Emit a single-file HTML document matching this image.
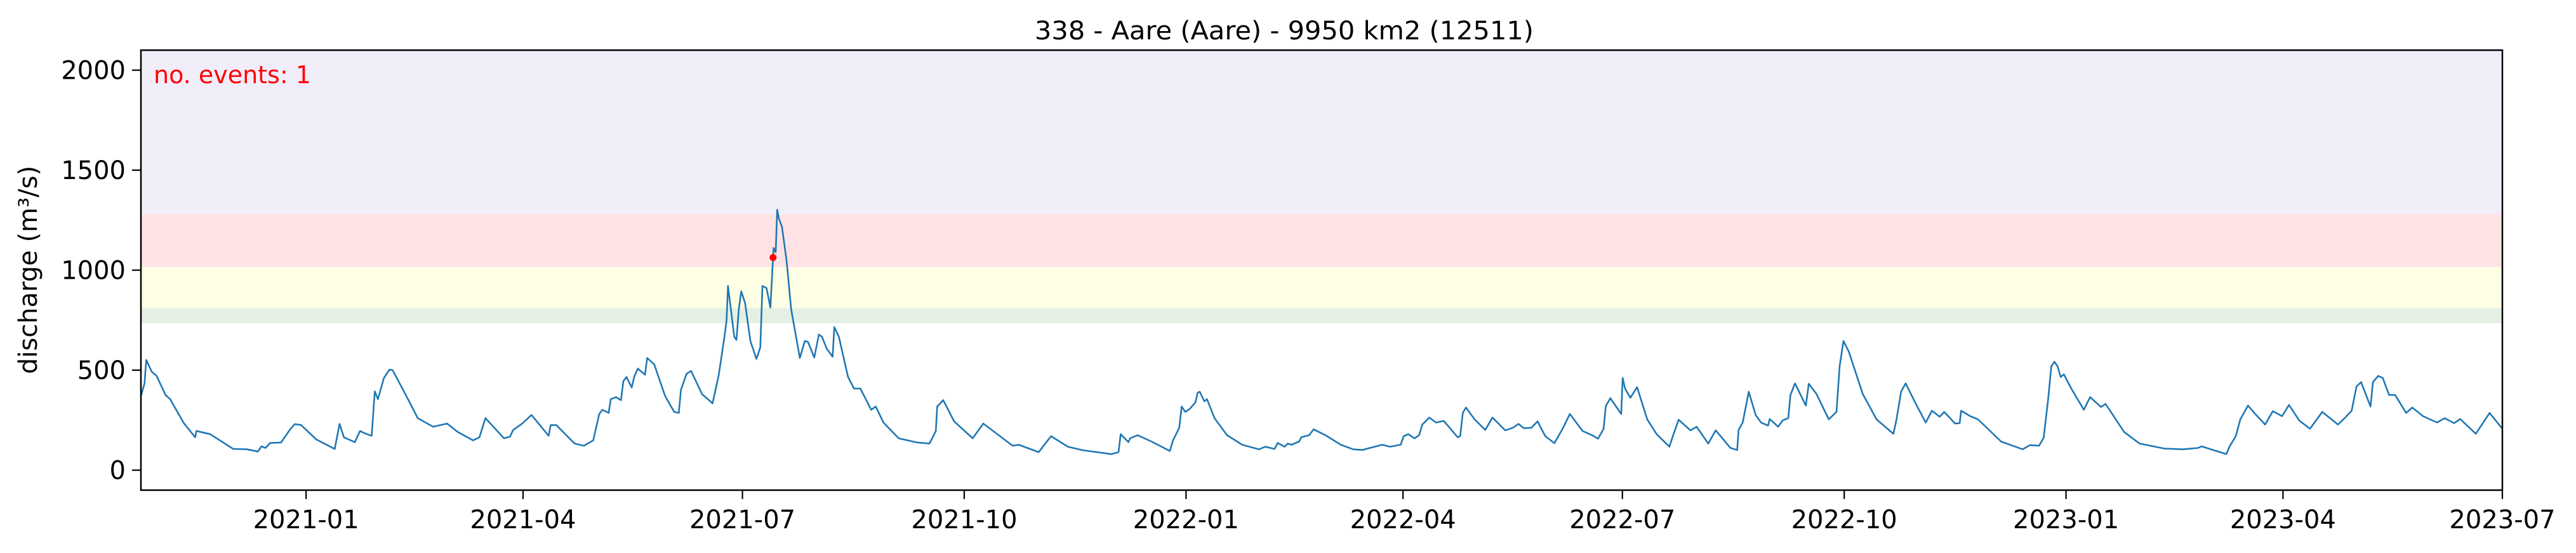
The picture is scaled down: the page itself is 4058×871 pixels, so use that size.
<!DOCTYPE html>
<html><head><meta charset="utf-8"><style>
html,body{margin:0;padding:0;background:#fff;}
svg{display:block;font-family:"DejaVu Sans","Liberation Sans",sans-serif;}
</style></head><body>
<svg id="chart" width="4058" height="871" viewBox="0 0 4058 871" xmlns="http://www.w3.org/2000/svg">
<defs><clipPath id="plotclip"><rect x="222" y="79" width="3720" height="693"/></clipPath></defs>
<g id="bands" clip-path="url(#plotclip)"></g>
<g id="series" clip-path="url(#plotclip)"></g>
<rect x="222" y="79" width="3720" height="693" fill="none" stroke="#000" stroke-width="2.5"/>
<g id="yaxis"></g><g id="xaxis"></g>
<text x="2023" y="62" font-size="40" text-anchor="middle" textLength="786" lengthAdjust="spacingAndGlyphs">338 - Aare (Aare) - 9950 km2 (12511)</text>
<text transform="translate(58,425) rotate(-90)" font-size="40" text-anchor="middle">discharge (m³/s)</text>
<text x="242" y="131" font-size="38" fill="#ff0000">no. events: 1</text>
</svg>
<script>
// days since 2021-01-01
const days = [-68.5,-67,-66.3,-64,-62,-58.3,-56.4,-50.6,-46,-45.5,-39.8,-30.2,-24.5,-20,-18.5,-16.8,-14.9,-10.4,-6.6,-4.7,-2.1,4.2,11.9,13.9,15.7,20.2,22.4,24.6,27.2,28.5,29.8,32.3,34.6,35.9,42.5,46.3,52.7,58.5,62.9,69.3,71.9,74.4,82.1,84.6,85.9,89.7,93.5,100.6,101.5,103.8,111.4,115.2,119.1,121.6,122.9,125.5,126.4,128.6,130.6,131.6,132.9,135.1,136.1,137.6,140.6,141.5,144.4,148.9,152.7,154.6,155.5,157.8,159.7,164.2,168.6,171.2,173.4,174.4,175,177.6,178.5,179.5,180.5,182.1,184.3,186.8,188.4,189.3,191,192.6,193.7,193.9,194.8,195.4,196.1,197.4,199.3,201.2,204.8,206.9,208.2,210.8,212.7,214,215.9,218.4,219.1,221,224.8,227.3,229.9,234.4,236.3,239.5,245.8,253.5,258.6,261.2,261.8,264.3,268.8,276.5,280.9,293.1,295.6,303.9,309,316,322,334.1,337,337.9,341.1,341.8,344.9,350.7,358.3,359.6,362.2,363.2,364.7,366.6,368.9,369.8,370.7,372.6,373.7,376.8,382,388.3,395.3,397.9,401.7,403,405.9,407.2,408.7,411.9,412.8,416.1,417.9,422.8,429.2,434.3,438.1,443.2,446.4,449.6,454,455.3,457.2,459.8,461.7,463,465.9,468.7,471.9,477.7,478.7,479.8,481.1,484.7,489.1,492.1,497.4,500.6,502.9,505.1,508.3,510.8,514,517.8,521.2,524.2,529.5,533.4,535.9,538.2,539.1,541,545.5,546.1,547.1,549.3,552.1,556.3,560.2,565.5,566.5,569.3,574.2,576.8,581.6,584.7,590.8,593.6,594.2,595.9,598.4,601.3,603.5,606.4,607.1,610.6,612.5,614.8,615.7,617.6,622.1,623.3,626.5,631.6,634.8,636.1,637.7,639.9,645.7,651.4,658.4,659.7,661.6,663.5,667.4,671.8,674.4,677.6,679.5,684,685.9,686.5,690.3,693.5,703.1,712,715,718.8,720.7,722.6,723.9,725.2,726.5,727.8,729.1,732.2,737.4,740,744.5,746.4,754.1,760.5,770.8,778.5,784.9,786.2,796.5,797.8,800.4,802.3,805.5,808.1,812.6,815.8,819.6,822.5,826.7,831.2,836.3,842.8,846,848.5,850.5,852.4,856.3,857.3,859.5,861.4,864,866.5,871.1,873.6,878.1,883.9,887.1,891,893.5,900,905.7,911];
const discharge = [371,434,551,492,471,376,355,233,164,196,180,106,104,93,119,111,136,138,204,230,226,154,106,231,164,140,196,183,172,394,355,461,503,500,350,260,217,233,191,149,164,260,159,168,201,233,276,172,225,225,133,122,149,281,302,286,355,365,350,445,466,413,466,508,477,561,529,371,291,286,402,482,496,381,334,477,656,746,921,667,651,805,894,836,646,556,614,921,910,813,1063,1111,1090,1302,1259,1217,1048,805,561,646,641,563,678,667,609,567,715,667,466,408,408,302,318,238,159,138,133,196,318,350,244,159,233,122,127,90,170,117,100,80,90,180,140,159,175,143,96,149,212,318,291,307,339,387,392,344,355,260,175,127,104,117,106,136,117,133,127,143,164,175,204,175,127,104,101,117,127,117,127,170,180,159,175,228,263,238,246,164,170,286,313,254,201,263,199,212,231,210,212,244,170,135,207,281,196,175,157,207,320,360,281,461,408,362,415,254,180,117,154,252,199,217,133,199,111,101,201,238,392,275,238,223,256,217,249,260,376,434,323,432,381,254,291,519,646,593,381,254,182,254,392,434,339,238,297,267,291,233,235,297,270,254,143,104,125,122,161,355,519,542,519,466,479,408,302,365,316,331,191,133,108,104,111,119,80,117,170,254,323,286,228,295,270,326,249,207,291,228,265,297,418,440,318,440,471,461,376,376,286,313,270,238,260,235,256,182,286,207];
const eventDays = [193.7];
const eventValues = [1063];
const yTicks = [0,500,1000,1500,2000];
const xTickDays = [0,90,181,273,365,455,546,638,730,820,911];
const xTickLabels = ["2021-01","2021-04","2021-07","2021-10","2022-01","2022-04","2022-07","2022-10","2023-01","2023-04","2023-07"];
const bandLows = [1280,1015,810,735];
const bandHighs = [2100,1280,1015,810];
const bandColors = ["#f1eefa","#ffe3e4","#fefee4","#e4f0e3"];
const bandNames = ["band-extreme","band-high","band-moderate","band-low"];

const NS = "http://www.w3.org/2000/svg";
const X0 = 222, X1 = 3942, Y0 = 772, Y1 = 79;
const dMin = -68.5, dMax = 911, vMin = -100, vMax = 2100;
function xs(d){ return X0 + (d - dMin) / (dMax - dMin) * (X1 - X0); }
function ys(v){ return Y0 - (v - vMin) / (vMax - vMin) * (Y0 - Y1); }
function mk(tag, attrs){ const e = document.createElementNS(NS, tag); for (const k in attrs) e.setAttribute(k, attrs[k]); return e; }

const bands = document.getElementById('bands');
for (let i = 0; i < bandLows.length; i++) {
  const r = mk('rect', {x: X0, y: ys(bandHighs[i]), width: X1 - X0, height: ys(bandLows[i]) - ys(bandHighs[i]), fill: bandColors[i]});
  
  
  bands.appendChild(r);
}

const series = document.getElementById('series');
let dstr = '';
for (let i = 0; i < days.length; i++) dstr += (i ? 'L' : 'M') + xs(days[i]).toFixed(1) + ',' + ys(discharge[i]).toFixed(1);
const line = mk('path', {d: dstr, fill: 'none', stroke: '#1f77b4', 'stroke-width': 2.6, 'stroke-linejoin': 'round'});


series.appendChild(line);
for (let i = 0; i < eventDays.length; i++) {
  const c = mk('circle', {cx: xs(eventDays[i]), cy: ys(eventValues[i]), r: 5.5, fill: '#ff0000'});
  
  
  series.appendChild(c);
}

const ya = document.getElementById('yaxis');
yTicks.forEach(v => {
  const y = ys(v);
  const t = mk('line', {x1: X0 - 14, x2: X0, y1: y, y2: y, stroke: '#000', 'stroke-width': 2.2});
  
  
  ya.appendChild(t);
  const l = mk('text', {x: X0 - 24, y: y + 14, 'font-size': 40, 'text-anchor': 'end'});
  
  
  l.textContent = v;
  ya.appendChild(l);
});
const xa = document.getElementById('xaxis');
xTickDays.forEach((d, i) => {
  const x = xs(d);
  const t = mk('line', {x1: x, x2: x, y1: Y0, y2: Y0 + 14, stroke: '#000', 'stroke-width': 2.2});
  
  
  xa.appendChild(t);
  const l = mk('text', {x: x, y: Y0 + 60, 'font-size': 40, 'text-anchor': 'middle'});
  
  
  l.textContent = xTickLabels[i];
  xa.appendChild(l);
});
</script>
</body></html>
